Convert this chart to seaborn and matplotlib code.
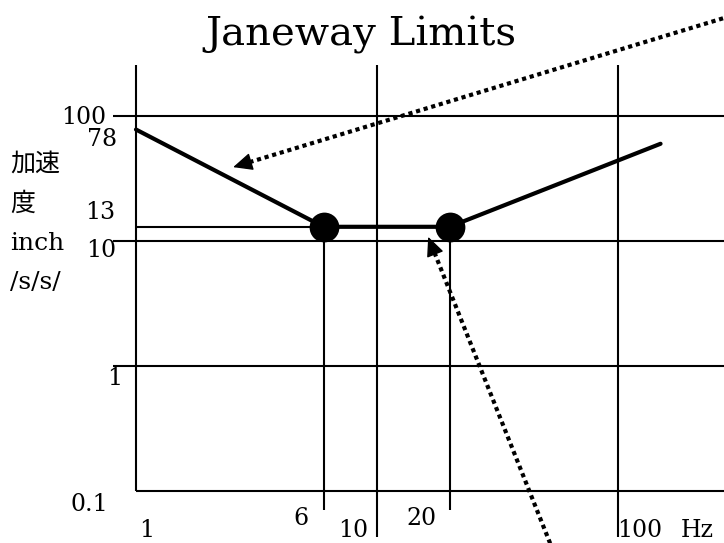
import matplotlib
matplotlib.use("Agg")
import matplotlib.pyplot as plt
from matplotlib.transforms import IdentityTransform
import numpy as np
import pandas as pd
import seaborn as sns

# --- data ---------------------------------------------------------------
freq_hz = [1, 6, 20, 150]          # limit curve corners
accel = [78, 13, 13, 60]
knee_hz = [6, 20]
knee_accel = [13, 13]
grid_hz = [10, 100]
grid_accel = [1, 10, 100]
floor_accel = 0.1
x_ticks = [1, 6, 10, 20, 100]
x_ticklabels = ["1", "6", "10", "20", "100"]
y_ticks = [100, 78, 13, 10, 1, 0.1]
y_ticklabels = ["100", "78", "13", "10", "1", "0.1"]
title = "Janeway Limits"
ylabel = "加速\n度\ninch\n/s/s/"
xunit = "Hz"

# --- style --------------------------------------------------------------
sns.set_style("white")
plt.rcParams["font.family"] = ["DejaVu Serif", "Noto Sans CJK JP"]
plt.rcParams["text.color"] = "black"

W, H = 724, 543
fig = plt.figure(figsize=(W / 100, H / 100), dpi=100)
ax = fig.add_axes([113 / W, 6 / H, 611 / W, 472 / H])

curve = pd.DataFrame({"Hz": freq_hz, "accel": accel})
knees = pd.DataFrame({"Hz": knee_hz, "accel": knee_accel})

ax.set_xscale("log")
ax.set_yscale("log")
xlim, ylim = (0.803, 275), (0.0429, 256)

thin = dict(color="black", lw=1.5)
# grid / axis lines
for g in grid_accel:
    ax.axhline(g, **thin)
for g in grid_hz:
    ax.axvline(g, **thin)
ax.hlines(floor_accel, x_ticks[0], xlim[1], **thin)
ax.vlines(x_ticks[0], floor_accel, ylim[1], **thin)
# drop lines from knees, reference line at 13
ax.vlines(knee_hz, 0.07, knee_accel, **thin)
ax.hlines(knee_accel[0], x_ticks[0], knee_hz[0], **thin)

sns.lineplot(data=curve, x="Hz", y="accel", sort=False, color="black",
             lw=3, ax=ax, legend=False)
sns.scatterplot(data=knees, x="Hz", y="accel", s=460, color="black",
                linewidth=0, ax=ax, zorder=5, legend=False)

ax.set_xlim(*xlim)
ax.set_ylim(*ylim)
ax.axis("off")

# --- tick labels as text ------------------------------------------------
y_nudge = [(-7, -1), (4, -10), (2, 14), (3, -9), (9, -12), (-5, -13)]
for val, lab, (dx, dy) in zip(y_ticks, y_ticklabels, y_nudge):
    ax.annotate(lab, xy=(0, val), xycoords=ax.get_yaxis_transform(),
                xytext=(dx, dy), textcoords="offset pixels",
                ha="right", va="center", fontsize=17)

x_nudge = [(11, -39), (-23, -27), (-24, -39), (-28, -27), (22, -39)]
for val, lab, (dx, dy) in zip(x_ticks, x_ticklabels, x_nudge):
    ax.annotate(lab, xy=(val, floor_accel), xytext=(dx, dy),
                textcoords="offset pixels", ha="center", va="center",
                fontsize=17, annotation_clip=False)
ax.annotate(xunit, xy=(0.956, floor_accel), xycoords=ax.get_yaxis_transform(),
            xytext=(0, -39), textcoords="offset pixels",
            ha="center", va="center", fontsize=17, annotation_clip=False)

fig.text(10 / W, 1 - 223 / H, ylabel, ha="left", va="center",
         fontsize=18, linespacing=1.9)
fig.text(361 / W, 1 - 35 / H, title, ha="center", va="center", fontsize=29)


# --- dotted pointer arrows ----------------------------------------------
def pointer(tip_data, tail_px, head_len=17):
    tip = ax.transData.transform(tip_data)
    tail = np.asarray(tail_px, float)
    u = (tail - tip) / np.hypot(*(tail - tip))
    base = tip + u * head_len
    ax.plot([base[0], tail[0]], [base[1], tail[1]], color="black", lw=3,
            ls=(0, (1, 0.9)), dash_capstyle="butt",
            transform=IdentityTransform(), clip_on=False)
    ax.annotate("", xy=tip, xycoords="figure pixels", xytext=base,
                textcoords="figure pixels", annotation_clip=False,
                arrowprops=dict(arrowstyle="-|>,head_length=1.2,head_width=0.55",
                                color="black", lw=1, shrinkA=0, shrinkB=0,
                                mutation_scale=10))


pointer((2.53, 39), (724, 525))
pointer((16.3, 10.8), (552, -5))

fig.savefig("out.png", dpi=100)
